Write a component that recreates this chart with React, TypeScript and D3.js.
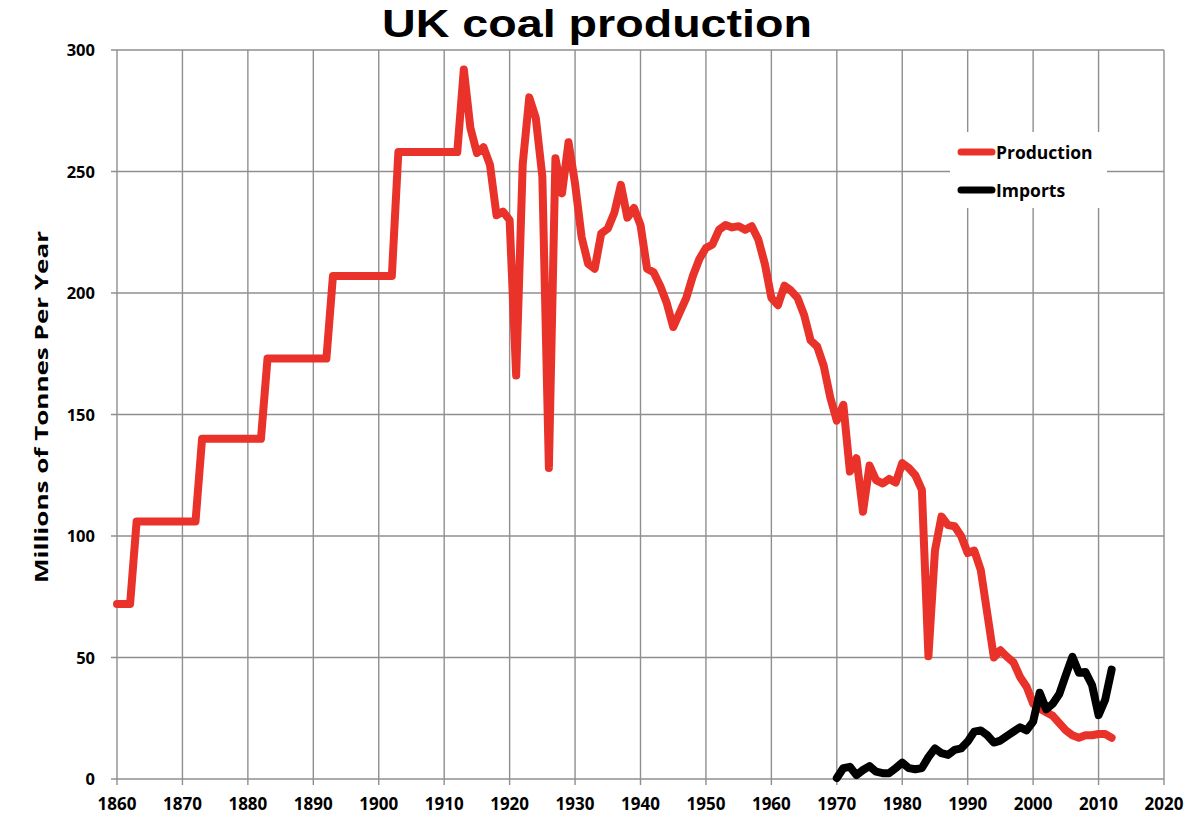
import React from 'react';
import * as d3 from 'd3';

// production, million tonnes (decadal steps before 1913, then yearly)
const prodYears = [
  1860, 1862, 1863, 1872, 1873, 1882, 1883, 1892, 1893, 1902, 1903, 1912,
  1913, 1914, 1915, 1916, 1917, 1918, 1919, 1920, 1921, 1922, 1923, 1924, 1925, 1926, 1927, 1928, 1929,
  1930, 1931, 1932, 1933, 1934, 1935, 1936, 1937, 1938, 1939, 1940, 1941, 1942, 1943, 1944, 1945, 1946,
  1947, 1948, 1949, 1950, 1951, 1952, 1953, 1954, 1955, 1956, 1957, 1958, 1959, 1960, 1961, 1962, 1963,
  1964, 1965, 1966, 1967, 1968, 1969, 1970, 1971, 1972, 1973, 1974, 1975, 1976, 1977, 1978, 1979, 1980,
  1981, 1982, 1983, 1984, 1985, 1986, 1987, 1988, 1989, 1990, 1991, 1992, 1993, 1994, 1995, 1996, 1997,
  1998, 1999, 2000, 2001, 2002, 2003, 2004, 2005, 2006, 2007, 2008, 2009, 2010, 2011, 2012,
];
const prodValues = [
  72, 72, 106, 106, 140, 140, 173, 173, 207, 207, 258, 258,
  292, 268, 257.6, 260, 252.7, 232, 233.5, 230, 166, 253, 280.5, 272, 248, 128, 255.5, 241, 262,
  245, 223, 212, 210, 224.5, 226.5, 233, 244.5, 231, 235, 228, 210, 208.5, 203, 196, 186, 192,
  198, 207, 214, 218.5, 220, 226, 228, 227, 227.5, 226, 227.5, 222, 212, 198, 195, 203, 201,
  198, 191, 180.5, 178, 170, 157, 147.5, 154, 126.5, 132, 110, 129, 123, 121.6, 123.5, 122, 130,
  128, 125, 119, 50.5, 94, 108, 104.5, 104, 100, 93, 94, 86, 68, 50, 53, 50.3, 48,
  42, 38, 31, 29, 27.5, 26, 23, 20, 18, 17, 18, 18, 18.5, 18.5, 17,
];

const importYears = d3.range(1970, 2013);
const importValues = [
  0.4, 4.5, 5, 1.6, 3.7, 5.3, 3, 2.4, 2.4, 4.5, 6.7, 4.5, 4, 4.5, 9, 12.6, 10.6, 9.9, 12, 12.6,
  15.4, 19.5, 20, 18, 15, 15.8, 17.7, 19.5, 21.3, 20, 23.6, 35.5, 28.7, 31, 35, 42.8, 50.3, 43.7,
  44, 38.7, 26.3, 32.5, 45,
];

const xTicks = d3.range(1860, 2021, 10);
const yTicks = d3.range(0, 301, 50);

const seriesNames = ['Production', 'Imports'];
const seriesColors = ['#e8322a', '#000000'];

const App = () => {
  const width = 1200;
  const height = 830;
  const x = d3.scaleLinear().domain([1860, 2020]).range([117, 1164]);
  const y = d3.scaleLinear().domain([0, 300]).range([779, 50]);

  const line = d3
    .line<[number, number]>()
    .x((d) => x(d[0]))
    .y((d) => y(d[1]));

  const prod: [number, number][] = prodYears.map((yr, i) => [yr, prodValues[i]]);
  const imp: [number, number][] = importYears.map((yr, i) => [yr, importValues[i]]);

  const grid = '#8f8f8f';
  const tickFont = "'Open Sans', sans-serif";

  return (
    <svg
      width={width}
      height={height}
      style={{ position: 'absolute', left: 0, top: 0, background: '#fff' }}
    >
      <rect width={width} height={height} fill="#fff" />
      {/* grid */}
      {yTicks.map((t) => (
        <line key={'h' + t} x1={111} x2={x(2020)} y1={y(t)} y2={y(t)} stroke={grid} strokeWidth={1.4} />
      ))}
      {xTicks.map((t) => (
        <line key={'v' + t} x1={x(t)} x2={x(t)} y1={y(300)} y2={785} stroke={grid} strokeWidth={1.4} />
      ))}
      {/* tick labels */}
      {yTicks.map((t) => (
        <text
          key={'yl' + t}
          x={95}
          y={y(t) + 6}
          textAnchor="end"
          fontFamily={tickFont}
          fontWeight="bold"
          fontSize={16.5}
        >
          {t}
        </text>
      ))}
      {xTicks.map((t) => (
        <text
          key={'xl' + t}
          x={x(t)}
          y={810}
          textAnchor="middle"
          fontFamily={tickFont}
          fontWeight="bold"
          fontSize={17}
        >
          {t}
        </text>
      ))}
      {/* lines */}
      <path d={line(prod) || ''} fill="none" stroke={seriesColors[0]} strokeWidth={8} strokeLinejoin="round" strokeLinecap="round" />
      <path d={line(imp) || ''} fill="none" stroke={seriesColors[1]} strokeWidth={8} strokeLinejoin="round" strokeLinecap="round" />
      {/* legend */}
      <rect x={950} y={132} width={157} height={76} fill="#fff" />
      {seriesNames.map((name, i) => (
        <g key={name} transform={`translate(0, ${152 + i * 38})`}>
          <line x1={961} x2={992} y1={0} y2={0} stroke={seriesColors[i]} strokeWidth={7} strokeLinecap="round" />
          <text x={996} y={6.5} fontFamily={tickFont} fontWeight="bold" fontSize={17.5}>
            {name}
          </text>
        </g>
      ))}
      {/* title */}
      <text
        x={597}
        y={37}
        textAnchor="middle"
        fontFamily="'Liberation Sans', Arial, sans-serif"
        fontWeight="bold"
        fontSize={38}
        textLength={430}
        lengthAdjust="spacingAndGlyphs"
      >
        UK coal production
      </text>
      {/* y axis title */}
      <text
        transform="translate(48, 407) rotate(-90)"
        textAnchor="middle"
        fontFamily={tickFont}
        fontWeight="bold"
        fontSize={18}
        textLength={352}
        lengthAdjust="spacingAndGlyphs"
      >
        Millions of Tonnes Per Year
      </text>
    </svg>
  );
};

export default App;
